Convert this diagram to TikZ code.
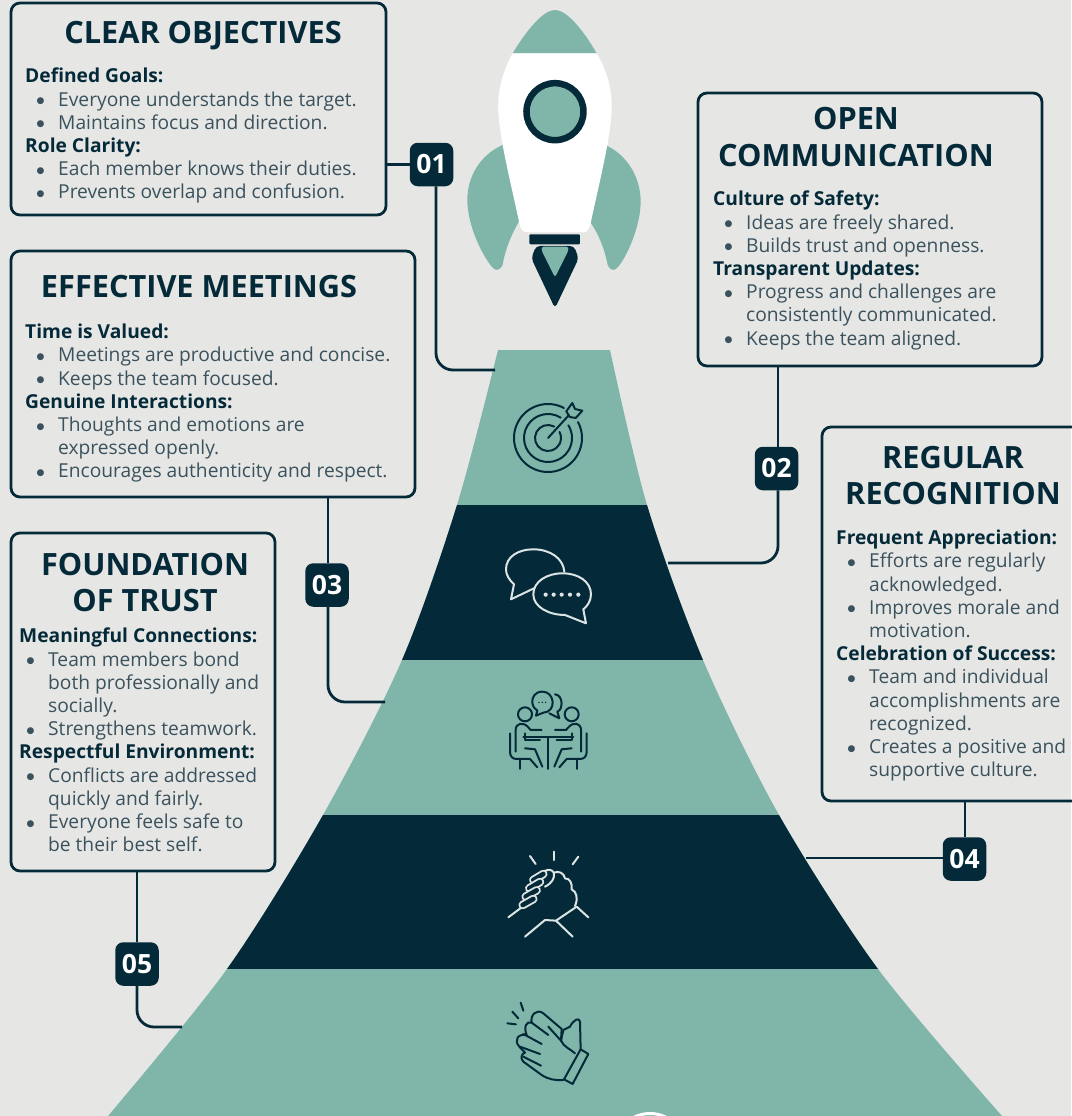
\documentclass[tikz,border=0pt]{standalone}
\usepackage{fontspec}
\setmainfont{Open Sans}
\newfontfamily\dotfont{DejaVu Sans}
\definecolor{bg}{HTML}{E6E6E4}
\definecolor{teal}{HTML}{80B6AA}
\definecolor{navy}{HTML}{042A39}
\definecolor{bodytext}{HTML}{3A525D}
\definecolor{iconlight}{HTML}{DCE4E4}
\newcommand{\itm}[1]{\makebox[33pt][l]{\hspace{11.5pt}\raisebox{2.5pt}[0pt][0pt]{\dotfont\fontsize{9}{9}\selectfont ●}}#1}
\newcommand{\cnt}[1]{\hspace*{33pt}#1}
\newcommand{\hd}[1]{{\bfseries\color{navy}#1}}
\tikzset{
  panel/.style={draw=navy,line width=2.8pt,rounded corners=9pt,anchor=north west,inner sep=0pt,outer sep=0pt},
  badge/.style={fill=navy,rounded corners=8pt,text=white,font=\fontsize{26.5}{26.5}\selectfont\bfseries,minimum width=43.5pt,minimum height=43.5pt,inner sep=0pt,outer sep=0pt},
  title/.style={text=navy,font=\fontsize{30.7}{36.5}\selectfont\bfseries,align=center,inner sep=0pt},
  copy/.style={text=bodytext,font=\fontsize{19.2}{23.2}\selectfont,align=left,anchor=north west,inner sep=0pt},
  conn/.style={draw=navy,line width=2.8pt,rounded corners=17pt},
  iconline/.style={line width=2pt,line cap=round,line join=round},
}
\begin{document}
\begin{tikzpicture}[x=1pt,y=1pt]
\useasboundingbox (0,0) rectangle (1071,-1116);
\fill[bg] (0,0) rectangle (1071,-1116);

% pyramid
\begin{scope}
\clip plot[smooth,tension=.5] coordinates {(498,-350) (457,-505) (402,-660) (323,-815) (227,-969) (108,-1116)}
  -- plot[smooth,tension=.5] coordinates {(1002,-1116) (878,-969) (779,-815) (703,-660) (647,-505) (610,-350)} -- cycle;
\fill[teal] (0,-340) rectangle (1071,-1116);
\fill[navy] (0,-505) rectangle (1071,-660);
\fill[navy] (0,-815) rectangle (1071,-969);
\end{scope}

% rocket
\begin{scope}[shift={(440,0)},x=.3333pt,y=-.3333pt]
\fill[teal] (188,435) .. controls (120,465) and (82,530) .. (82,600) .. controls (82,680) and (130,770) .. (155,800) .. controls (165,815) and (180,812) .. (188,795) .. controls (195,750) and (215,700) .. (240,660) -- cycle;
\fill[teal] (500,437) .. controls (560,465) and (602,530) .. (602,605) .. controls (602,680) and (560,770) .. (535,800) .. controls (525,815) and (510,812) .. (503,795) .. controls (495,750) and (475,700) .. (450,665) -- cycle;
\fill[teal] (218,160) .. controls (260,90) and (310,30) .. (345,30) .. controls (380,30) and (430,90) .. (470,160) -- cycle;
\fill[white] (218,160) .. controls (190,210) and (172,270) .. (175,330) .. controls (178,420) and (220,580) .. (238,670) .. controls (242,690) and (250,697) .. (262,697) -- (428,697) .. controls (440,697) and (448,690) .. (452,670) .. controls (470,580) and (512,420) .. (515,330) .. controls (518,270) and (500,210) .. (470,160) -- cycle;
\draw[navy,fill=teal,line width=6.5pt] (345,335) circle[radius=28.5pt];
\fill[navy,rounded corners=1pt] (268,703) rectangle (420,733);
\fill[navy,rounded corners=4pt] (288,738) -- (402,738) -- (416,775) -- (345,925) -- (274,775) -- cycle;
\fill[teal,rounded corners=2.5pt] (305,740) -- (385,740) -- (385,752) -- (345,832) -- (305,752) -- cycle;
\end{scope}

% target icon
\begin{scope}[shift={(548,-438)},navy,iconline]
\draw (62:34) arc[start angle=62,end angle=388,radius=34pt];
\draw (58:24) arc[start angle=58,end angle=392,radius=24pt];
\draw (62:13) arc[start angle=62,end angle=388,radius=13pt];
\draw (0,0) -- (21,23);
\draw (18.3,26.7) -- (24.3,35) -- (27,29) -- (34.3,27.3) -- (27.7,20) -- (21.7,21) -- cycle;
\end{scope}

% chat icon
\begin{scope}[shift={(380,-340)},x=.3333pt,y=-.3333pt,iconlight,iconline]
\draw (553,695) .. controls (550,655) and (510,628) .. (460,628) .. controls (415,628) and (378,650) .. (378,688) .. controls (378,705) and (388,720) .. (402,733) -- (393,778) -- (462,745);
\draw[fill=navy] (548,700) .. controls (595,700) and (633,725) .. (633,763) .. controls (633,785) and (620,800) .. (610,808) -- (618,850) -- (555,825) .. controls (505,825) and (460,800) .. (460,763) .. controls (460,725) and (500,700) .. (548,700) -- cycle;
\foreach \dx in {497,521,545,570,595} \fill (\dx,764) circle[radius=2.1pt];
\end{scope}

% meeting icon
\newcommand{\seatedperson}{%
  \draw (135,973) circle[radius=7pt];
  \draw (90,1030) -- (90,1085) .. controls (90,1100) and (98,1107) .. (110,1107) -- (150,1107) -- (172,1132);
  \draw (120,1107) -- (120,1137);
  \draw (107,1085) -- (107,1020) .. controls (107,1000) and (128,995) .. (143,1010) -- (152,1020) -- (185,1020);
  \draw (135,1030) -- (135,1050) -- (180,1050);
  \draw (135,1075) -- (165,1078) -- (187,1130);
}
\begin{scope}[shift={(480,-390)},x=.3333pt,y=-.3333pt,navy,iconline]
\seatedperson
\draw (130,1042) -- (205,1042) -- (205,1137);
\draw (205,1042) -- (280,1042);
\draw (225,913) .. controls (250,915) and (250,960) .. (232,965) -- (238,985) -- (208,970);
\draw[fill=teal] (187,905) .. controls (165,905) and (155,922) .. (157,938) .. controls (158,950) and (165,958) .. (172,962) -- (168,977) -- (190,968) .. controls (208,968) and (220,952) .. (218,935) .. controls (216,918) and (205,905) .. (187,905) -- cycle;
\foreach \dx in {177,187,197} \fill (\dx,937) circle[radius=.8pt];
\end{scope}
\begin{scope}[shift={(616.67,-390)},x=-.3333pt,y=-.3333pt,navy,iconline]
\seatedperson
\end{scope}

% handshake icon
\begin{scope}[shift={(480,-830)},x=.3333pt,y=-.3333pt,iconlight,iconline]
\draw (150,78) -- (167,102);
\draw (222,65) -- (222,90);
\draw (295,80) -- (278,103);
\draw (85,262) -- (125,232);
\draw (290,230) -- (325,262);
\draw (135,320) -- (195,270) -- (228,272) -- (290,230);
\draw (228,272) -- (278,320);
\draw (190,128) .. controls (195,118) and (215,115) .. (222,128) .. controls (235,122) and (252,128) .. (255,145) .. controls (270,145) and (277,160) .. (275,178) .. controls (290,185) and (295,205) .. (285,228);
\draw (222,128) .. controls (225,145) and (215,160) .. (195,170);
\foreach \xa/\ya/\xb/\yb in {160/150/190/132, 148/175/180/156, 137/200/170/181, 128/225/160/207}{
  \draw[line width=8.5pt] (\xa,\ya) -- (\xb,\yb);
  \draw[navy,line width=4.7pt] (\xa,\ya) -- (\xb,\yb);
}
\end{scope}

% clap icon
\begin{scope}[shift={(480,-830)},x=.3333pt,y=-.3333pt,navy,iconline]
\draw (82,580) -- (108,583);
\draw (97,545) -- (115,565);
\draw (122,518) -- (130,542);
\draw (250,750) .. controls (225,752) and (205,748) .. (185,735) -- (130,695) .. controls (120,685) and (125,670) .. (135,668) -- (118,650) .. controls (100,630) and (115,610) .. (140,615) .. controls (130,590) and (140,572) .. (155,578) .. controls (150,555) and (170,535) .. (190,550) -- (245,597) -- (243,632) -- (205,590);
\draw (243,632) -- (250,600) -- (270,590) .. controls (280,570) and (298,560) .. (300,575) -- (302,660);
\draw (130,612) -- (185,642);
\draw (120,650) -- (180,672);
\draw (130,680) -- (183,707);
\draw (155,578) -- (205,615);
\draw (243,632) .. controls (250,650) and (275,660) .. (285,670);
\draw (302,658) -- (325,672) -- (278,762) -- (252,748) -- cycle;
\end{scope}

% bottom arc
\draw[white,line width=3pt] (650,-1149.5) circle[radius=36pt];

% panels
\node[panel,minimum width=375pt,minimum height=212pt] (box1) at (11,-3) {};
\node[panel,minimum width=344pt,minimum height=273pt] (box2) at (698,-93) {};
\node[panel,minimum width=404pt,minimum height=246pt] (box3) at (11,-251) {};
\node[panel,minimum width=264pt,minimum height=374pt] (box4) at (822,-427) {};
\node[panel,minimum width=264pt,minimum height=338pt] (box5) at (11,-533) {};

% badges
\node[badge] (b1) at (431.5,-164.5) {01};
\node[badge] (b2) at (776.5,-468.5) {02};
\node[badge] (b3) at (327,-585) {03};
\node[badge] (b4) at (964.5,-859) {04};
\node[badge] (b5) at (137,-964) {05};

% titles
\node[title] (t1) at (203,-36) {CLEAR OBJECTIVES};
\node[title] (t2) at (856,-137) {OPEN\\COMMUNICATION};
\node[title] (t3) at (199,-287) {EFFECTIVE MEETINGS};
\node[title] (t4) at (953,-475.5) {REGULAR\\RECOGNITION};
\node[title] (t5) at (145,-582.5) {FOUNDATION\\OF TRUST};

% copy
\node[copy] (c1) at (25,-68) {\hd{Defined Goals:}\\\itm{Everyone understands the target.}\\\itm{Maintains focus and direction.}\\\hd{Role Clarity:}\\\itm{Each member knows their duties.}\\\itm{Prevents overlap and confusion.}};
\node[copy] (c2) at (713,-191) {\hd{Culture of Safety:}\\\itm{Ideas are freely shared.}\\\itm{Builds trust and openness.}\\\hd{Transparent Updates:}\\\itm{Progress and challenges are}\\\cnt{consistently communicated.}\\\itm{Keeps the team aligned.}};
\node[copy] (c3) at (25,-324) {\hd{Time is Valued:}\\\itm{Meetings are productive and concise.}\\\itm{Keeps the team focused.}\\\hd{Genuine Interactions:}\\\itm{Thoughts and emotions are}\\\cnt{expressed openly.}\\\itm{Encourages authenticity and respect.}};
\node[copy] (c4) at (836,-530) {\hd{Frequent Appreciation:}\\\itm{Efforts are regularly}\\\cnt{acknowledged.}\\\itm{Improves morale and}\\\cnt{motivation.}\\\hd{Celebration of Success:}\\\itm{Team and individual}\\\cnt{accomplishments are}\\\cnt{recognized.}\\\itm{Creates a positive and}\\\cnt{supportive culture.}};
\node[copy] (c5) at (19,-628) {\hd{Meaningful Connections:}\\\hspace*{-4pt}\itm{Team members bond}\\\hspace*{-4pt}\cnt{both professionally and}\\\hspace*{-4pt}\cnt{socially.}\\\hspace*{-4pt}\itm{Strengthens teamwork.}\\\hd{Respectful Environment:}\\\hspace*{-4pt}\itm{Conflicts are addressed}\\\hspace*{-4pt}\cnt{quickly and fairly.}\\\hspace*{-4pt}\itm{Everyone feels safe to}\\\hspace*{-4pt}\cnt{be their best self.}};

% connector ends on the pyramid
\coordinate (p1) at (495,-370);
\coordinate (p2) at (668,-563);
\coordinate (p3) at (385,-702);
\coordinate (p4) at (806,-858);
\coordinate (p5) at (182,-1027);

\draw[conn] (box1.east |- b1) -- (b1.west);
\draw[conn] (b1.south -| 436,0) -- (436,-370) -- (p1);
\draw[conn] (778,-366) -- (b2.north -| 778,0);
\draw[conn] (b2.south -| 778,0) -- (778,-563) -- (p2);
\draw[conn] (box3.south -| 328,0) -- (b3.north -| 328,0);
\draw[conn] (b3.south -| 328,0) -- (328,-702) -- (p3);
\draw[conn] (box4.south -| 965,0) -- (b4.north -| 965,0);
\draw[conn] (b4.west |- p4) -- (p4);
\draw[conn] (box5.south -| 137,0) -- (b5.north -| 137,0);
\draw[conn] (b5.south -| 137,0) -- (137,-1027) -- (p5);
\end{tikzpicture}
\end{document}
